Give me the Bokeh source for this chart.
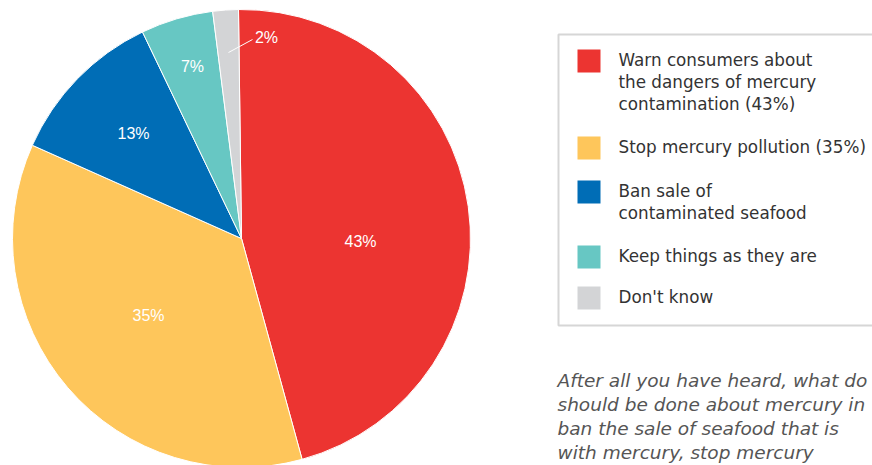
from bokeh.plotting import figure
from bokeh.models import Range1d, ColumnDataSource
from bokeh.core.properties import value
from bokeh.embed import file_html
from bokeh.resources import INLINE

# ---- data ----
categories = [
    "Warn consumers about\nthe dangers of mercury\ncontamination (43%)",
    "Stop mercury pollution (35%)",
    "Ban sale of\ncontaminated seafood",
    "Keep things as they are",
    "Don't know",
]
slice_labels = ["43%", "35%", "13%", "7%", "2%"]
shares = [45.9, 35.9, 11.2, 5.1, 1.8]
colors = ["#EC3431", "#FEC65B", "#006DB6", "#67C7C3", "#D3D4D6"]
caption_lines = [
    "After all you have heard, what do",
    "should be done about mercury in",
    "ban the sale of seafood that is",
    "with mercury, stop mercury",
]

W, H = 872, 465


def fy(y):
    return H - y


p = figure(width=W, height=H, x_range=Range1d(0, W), y_range=Range1d(0, H),
           output_backend="svg", toolbar_location=None, min_border=0,
           background_fill_color="white", border_fill_color="white")
p.axis.visible = False
p.grid.visible = False
p.outline_line_color = None

# ---- pie ----
cx, cy, r = 241, fy(238), 229
start_offset = -0.75  # degrees clockwise from 12 o'clock
total = sum(shares)
t0s, t1s = [], []
t = start_offset
for s in shares:
    t0s.append(t)
    t += s / total * 360.0
    t1s.append(t)
src = ColumnDataSource(dict(
    start=[90 - b for b in t1s],
    end=[90 - a for a in t0s],
    color=colors,
))
p.wedge(x=cx, y=cy, radius=r, start_angle="start", end_angle="end",
        start_angle_units="deg", end_angle_units="deg",
        fill_color="color", line_color="white", line_width=1, source=src)

# slice labels
lab_x = [360, 148, 133, 192, 266]
lab_y = [241, 315, 133, 66, 37]
p.text(x=lab_x, y=[fy(v) for v in lab_y], text=slice_labels,
       text_font=value("Liberation Sans"), text_font_size="16px",
       text_color="white", text_align="center", text_baseline="middle")
# leader line for small slice
p.line(x=[228, 252], y=[fy(52), fy(39)], line_color="white", line_width=1)

# ---- legend ----
p.quad(left=558, right=920, top=fy(34), bottom=fy(325),
       fill_color=None, line_color="#D6D6D6", line_width=2)
sw_y = [60.5, 147.5, 191.5, 256.5, 297.5]
p.rect(x=[588.5] * 5, y=[fy(v) for v in sw_y], width=23, height=23,
       fill_color=colors, line_color=None)
p.text(x=[618] * 5, y=[fy(v - 11) for v in sw_y], text=categories,
       text_font=value("DejaVu Sans"), text_font_size="16.8px",
       text_color="#333333", text_align="left", text_baseline="top",
       text_line_height=1.10)

# ---- caption ----
cap_y = [380, 404, 428, 452]
p.text(x=[557] * 4, y=[fy(v) for v in cap_y], text=caption_lines,
       text_font=value("DejaVu Sans"), text_font_size="18.5px",
       text_font_style="italic", text_color="#555555",
       text_align="left", text_baseline="middle")

open("out.html", "w").write(file_html(p, INLINE))
